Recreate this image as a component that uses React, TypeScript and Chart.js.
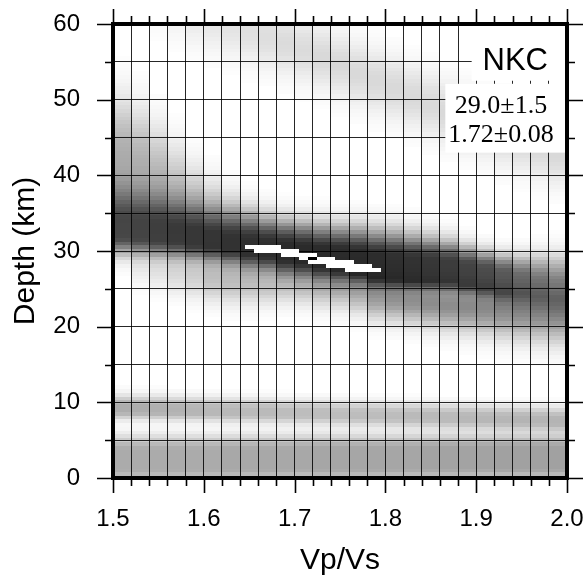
import { useEffect, useRef } from 'react';
import { Chart, registerables } from 'chart.js';

Chart.register(...registerables);

// ---------- axis data ----------
const X_MIN = 1.5;
const X_MAX = 2.0;
const Y_MIN = 0;
const Y_MAX = 60;
const X_TICKS = [1.5, 1.52, 1.54, 1.56, 1.58, 1.6, 1.62, 1.64, 1.66, 1.68, 1.7, 1.72, 1.74, 1.76, 1.78, 1.8, 1.82, 1.84, 1.86, 1.88, 1.9, 1.92, 1.94, 1.96, 1.98, 2.0];
const Y_TICKS = [0, 5, 10, 15, 20, 25, 30, 35, 40, 45, 50, 55, 60];
const X_TITLE = 'Vp/Vs';
const Y_TITLE = 'Depth (km)';

// ---------- stack amplitude (read per Vp/Vs column) ----------
const VPVS_COLUMNS = [1.51, 1.53, 1.55, 1.57, 1.59, 1.61, 1.63, 1.65, 1.67, 1.69, 1.71, 1.73, 1.75, 1.77, 1.79, 1.81, 1.83, 1.85, 1.87, 1.89, 1.91, 1.93, 1.95, 1.97, 1.99];
// main (dark) Ps band
const CORE_DEPTH = [33.0, 32.8, 32.5, 32.2, 31.8, 31.4, 31.0, 30.6, 30.3, 29.9, 29.6, 29.2, 28.9, 28.5, 28.0, 27.8, 27.6, 27.5, 27.3, 26.9, 26.5, 26.0, 25.7, 25.3, 25.0];
const CORE_PLATEAU = [1.0, 1.0, 1.0, 0.9, 0.9, 0.8, 0.8, 0.9, 0.9, 1.0, 1.0, 1.1, 1.2, 1.3, 1.5, 1.5, 1.45, 1.4, 1.3, 1.25, 1.2, 1.2, 1.0, 0.9, 0.8];
const CORE_DEEP_WIDTH = [3.7, 3.5, 3.3, 3.1, 2.9, 2.8, 2.7, 2.5, 2.3, 2.2, 2.2, 2.2, 2.2, 2.3, 2.3, 2.3, 2.2, 2.05, 1.9, 1.7, 1.6, 1.6, 1.8, 2.1, 2.4];
const CORE_SHALLOW_WIDTH = [1.7, 1.7, 1.6, 1.6, 1.5, 1.5, 1.5, 1.5, 1.5, 1.6, 1.6, 1.5, 1.4, 1.2, 1.0, 0.95, 0.9, 0.9, 0.9, 0.9, 1.0, 1.1, 1.3, 1.45, 1.6];
const CORE_PEAK = [0.72, 0.73, 0.75, 0.77, 0.78, 0.79, 0.80, 0.81, 0.82, 0.83, 0.83, 0.83, 0.83, 0.83, 0.82, 0.81, 0.80, 0.78, 0.76, 0.73, 0.69, 0.63, 0.56, 0.50, 0.45];
// broad lobe on the deep side (left)
const DEEP_LOBE_DEPTH = [43.5, 42.5, 41.0, 39.5, 38.0, 37.0, 36.0, 36.0, 36.0, 36.0, 36.0, 36.0, 36.0, 36.0, 36.0, 36.0, 36.0, 36.0, 36.0, 36.0, 36.0, 36.0, 36.0, 36.0, 36.0];
const DEEP_LOBE_WIDTH = [4.5, 4.2, 3.8, 3.4, 3.0, 2.6, 2.2, 2, 2, 2, 2, 2, 2, 2, 2, 2, 2, 2, 2, 2, 2, 2, 2, 2, 2];
const DEEP_LOBE_PEAK = [0.30, 0.28, 0.24, 0.19, 0.14, 0.09, 0.045, 0, 0, 0, 0, 0, 0, 0, 0, 0, 0, 0, 0, 0, 0, 0, 0, 0, 0];
// lobe on the shallow side (right)
const SHALLOW_LOBE_DEPTH = [27.8, 27.5, 27.2, 26.9, 26.6, 26.3, 26.0, 25.8, 25.6, 25.5, 25.3, 25.1, 24.9, 24.6, 24.0, 23.7, 23.4, 23.1, 22.8, 22.6, 22.4, 22.2, 22.0, 21.8, 21.7];
const SHALLOW_LOBE_WIDTH = [1.5, 1.5, 1.7, 1.8, 1.9, 2.0, 2.0, 1.9, 1.8, 1.7, 1.7, 1.8, 1.8, 1.9, 2.0, 2.0, 2.05, 2.1, 2.15, 2.2, 2.3, 2.4, 2.45, 2.55, 2.6];
const SHALLOW_LOBE_PEAK = [0, 0.06, 0.10, 0.14, 0.18, 0.24, 0.25, 0.25, 0.24, 0.22, 0.23, 0.26, 0.29, 0.33, 0.40, 0.43, 0.44, 0.45, 0.45, 0.46, 0.46, 0.46, 0.46, 0.45, 0.45];
// faint multiple band at the top
const FAINT_BAND_DEPTH = [66.0, 64.5, 63.3, 62.2, 61.2, 60.5, 59.8, 59.0, 58.2, 57.4, 56.5, 55.6, 54.6, 53.5, 52.5, 51.5, 50.4, 49.3, 48.3, 47.3, 46.4, 45.5, 44.6, 43.7, 42.8];
const FAINT_BAND_PEAK = [0, 0.03, 0.05, 0.07, 0.09, 0.10, 0.11, 0.12, 0.13, 0.14, 0.14, 0.15, 0.15, 0.15, 0.15, 0.15, 0.15, 0.15, 0.15, 0.15, 0.15, 0.15, 0.15, 0.15, 0.15];
// shallow band near 8-9 km
const SEDIMENT_BAND_DEPTH = [9.2, 9.15, 9.1, 9.0, 8.95, 8.9, 8.8, 8.75, 8.7, 8.6, 8.55, 8.5, 8.4, 8.35, 8.3, 8.2, 8.15, 8.1, 8.0, 7.95, 7.9, 7.8, 7.75, 7.7, 7.6];
const SEDIMENT_BAND_PEAK = [0.32, 0.32, 0.31, 0.30, 0.29, 0.28, 0.28, 0.27, 0.27, 0.26, 0.26, 0.26, 0.26, 0.26, 0.26, 0.26, 0.27, 0.27, 0.27, 0.28, 0.28, 0.28, 0.29, 0.29, 0.29];
// surface band near 2-3 km
const SURFACE_BAND_DEPTH = [2.5, 2.5, 2.5, 2.5, 2.5, 2.5, 2.55, 2.55, 2.55, 2.55, 2.6, 2.6, 2.6, 2.6, 2.6, 2.6, 2.65, 2.65, 2.65, 2.65, 2.7, 2.7, 2.7, 2.7, 2.7];
const SURFACE_BAND_PEAK = [0.33, 0.33, 0.33, 0.33, 0.33, 0.33, 0.34, 0.34, 0.34, 0.34, 0.34, 0.35, 0.35, 0.35, 0.35, 0.35, 0.35, 0.36, 0.36, 0.36, 0.36, 0.37, 0.37, 0.37, 0.37];

// >95% contour (white cells) and maximum
const BLOB_VPVS = [1.65, 1.66, 1.67, 1.68, 1.69, 1.70, 1.71, 1.72, 1.73, 1.74, 1.75, 1.76, 1.77, 1.78, 1.79];
const BLOB_SHALLOW = [30.5, 30.0, 30.0, 30.0, 29.5, 29.5, 29.0, 28.5, 28.5, 28.0, 28.0, 27.5, 27.5, 27.5, 27.5];
const BLOB_DEEP = [30.5, 30.5, 30.5, 30.5, 30.0, 30.0, 29.5, 29.5, 29.0, 29.0, 28.5, 28.5, 28.0, 28.0, 27.5];
const BEST_VPVS = 1.72;
const BEST_DEPTH = 29.0;

// annotation
const STATION = 'NKC';
const H_RESULT = '29.0\u00b11.5';
const K_RESULT = '1.72\u00b10.08';

const SANS = "'Liberation Sans', Arial, Helvetica, sans-serif";
const SERIF = "'Liberation Serif', 'Times New Roman', serif";
const COL_HALF = 0.01;
const ROW_STEP = 0.5;
const CELL_K = 0.01;

function band(d: number, c: number, h: number, sDeep: number, sShallow: number, p: number) {
  if (p <= 0) return 0;
  const dd = d - c;
  const a = Math.max(0, Math.abs(dd) - h);
  const s = dd > 0 ? sDeep : sShallow;
  return p * Math.exp(-0.5 * (a / s) * (a / s));
}

function darkness(i: number, d: number) {
  const parts = [
    band(d, CORE_DEPTH[i], CORE_PLATEAU[i], CORE_DEEP_WIDTH[i], CORE_SHALLOW_WIDTH[i], CORE_PEAK[i]),
    band(d, DEEP_LOBE_DEPTH[i], 0, DEEP_LOBE_WIDTH[i], DEEP_LOBE_WIDTH[i], DEEP_LOBE_PEAK[i]),
    band(d, SHALLOW_LOBE_DEPTH[i], 0, SHALLOW_LOBE_WIDTH[i], SHALLOW_LOBE_WIDTH[i], SHALLOW_LOBE_PEAK[i]),
    band(d, FAINT_BAND_DEPTH[i], 0, 2.8, 2.8, FAINT_BAND_PEAK[i]),
    band(d, SEDIMENT_BAND_DEPTH[i], 0.3, 1.0, 0.8, SEDIMENT_BAND_PEAK[i]),
    band(d, SURFACE_BAND_DEPTH[i], 1.2, 1.3, 1.3, SURFACE_BAND_PEAK[i]),
  ];
  let keep = 1;
  parts.forEach((v) => {
    keep *= 1 - v;
  });
  return Math.min(1 - keep, 0.9);
}

const hkPlugin = {
  id: 'hkStack',
  beforeDraw(chart: any) {
    const { ctx, width, height } = chart;
    ctx.save();
    ctx.fillStyle = '#fff';
    ctx.fillRect(0, 0, width, height);
    ctx.restore();
  },
  beforeDatasetsDraw(chart: any) {
    const { ctx, chartArea: ca, scales } = chart;
    const x = scales.x;
    const y = scales.y;
    ctx.save();
    ctx.beginPath();
    ctx.rect(ca.left, ca.top, ca.right - ca.left, ca.bottom - ca.top);
    ctx.clip();
    VPVS_COLUMNS.forEach((k, i) => {
      const x0 = Math.round(x.getPixelForValue(k - COL_HALF));
      const x1 = Math.round(x.getPixelForValue(k + COL_HALF));
      for (let d = Y_MIN; d <= Y_MAX + 1e-9; d += ROW_STEP) {
        const t = darkness(i, d);
        if (t < 0.008) continue;
        const yTop = Math.round(y.getPixelForValue(d + ROW_STEP / 2));
        const yBot = Math.round(y.getPixelForValue(d - ROW_STEP / 2));
        const g = Math.round(255 * (1 - t));
        ctx.fillStyle = `rgb(${g},${g},${g})`;
        ctx.fillRect(x0, yTop, x1 - x0, yBot - yTop);
      }
    });
    ctx.restore();
  },
  afterDraw(chart: any) {
    const { ctx, chartArea: ca, scales } = chart;
    const x = scales.x;
    const y = scales.y;
    ctx.save();
    // >95% region and maximum
    const cell = (k: number, d: number, color: string) => {
      const x0 = Math.round(x.getPixelForValue(k - CELL_K / 2));
      const x1 = Math.round(x.getPixelForValue(k + CELL_K / 2));
      const y0 = Math.round(y.getPixelForValue(d + ROW_STEP / 2));
      const y1 = Math.round(y.getPixelForValue(d - ROW_STEP / 2));
      ctx.fillStyle = color;
      ctx.fillRect(x0, y0, x1 - x0, y1 - y0);
    };
    BLOB_VPVS.forEach((k, i) => {
      for (let d = BLOB_SHALLOW[i]; d <= BLOB_DEEP[i] + 1e-9; d += ROW_STEP) cell(k, d, '#fff');
    });
    cell(BEST_VPVS, BEST_DEPTH, '#000');

    // annotation boxes
    ctx.fillStyle = '#fff';
    const bx1 = x.getPixelForValue(1.895);
    const by1 = y.getPixelForValue(52.5);
    ctx.fillRect(bx1, ca.top, ca.right - bx1, by1 - ca.top);
    const bx2 = x.getPixelForValue(1.866);
    const by2a = y.getPixelForValue(52.1);
    const by2b = y.getPixelForValue(43.0);
    ctx.fillRect(bx2, by2a, ca.right - bx2, by2b - by2a);

    ctx.fillStyle = '#000';
    ctx.textBaseline = 'alphabetic';
    ctx.font = `31px ${SANS}`;
    ctx.textAlign = 'right';
    ctx.fillText(STATION, ca.right - 19, ca.top + 46);
    ctx.font = `26px ${SERIF}`;
    ctx.textAlign = 'center';
    ctx.fillText(H_RESULT, ca.right - 66, ca.top + 89);
    ctx.fillText(K_RESULT, ca.right - 66, ca.top + 118);

    // frame
    ctx.strokeStyle = '#000';
    ctx.lineWidth = 4;
    ctx.strokeRect(ca.left, ca.top, ca.right - ca.left, ca.bottom - ca.top);

    // tick marks on four sides
    ctx.lineWidth = 1.6;
    ctx.beginPath();
    x.ticks.forEach((t: any) => {
      const px = Math.round(x.getPixelForValue(t.value)) + 0.5;
      const major = Math.round(t.value * 100) % 10 === 0;
      const len = major ? 15 : 8;
      ctx.moveTo(px, ca.bottom);
      ctx.lineTo(px, ca.bottom + len);
      ctx.moveTo(px, ca.top);
      ctx.lineTo(px, ca.top - len);
    });
    y.ticks.forEach((t: any) => {
      const py = Math.round(y.getPixelForValue(t.value)) + 0.5;
      const major = Math.round(t.value) % 10 === 0;
      const len = major ? 16 : 8;
      ctx.moveTo(ca.left, py);
      ctx.lineTo(ca.left - len, py);
      ctx.moveTo(ca.right, py);
      ctx.lineTo(ca.right + len, py);
    });
    ctx.stroke();
    ctx.restore();
  },
};

export default function App() {
  const canvasRef = useRef<HTMLCanvasElement | null>(null);

  useEffect(() => {
    const canvas = canvasRef.current;
    if (!canvas) return;
    const chart = new Chart(canvas, {
      type: 'scatter',
      data: { datasets: [] },
      plugins: [hkPlugin],
      options: {
        responsive: false,
        animation: false,
        devicePixelRatio: 1,
        layout: { autoPadding: false, padding: { top: 24, right: 21, left: 0, bottom: 0 } },
        plugins: {
          legend: { display: false },
          tooltip: { enabled: false },
          title: { display: false },
        },
        scales: {
          x: {
            type: 'linear',
            position: 'bottom',
            min: X_MIN,
            max: X_MAX,
            afterBuildTicks: (s: any) => {
              s.ticks = X_TICKS.map((v) => ({ value: v }));
            },
            afterFit: (s: any) => {
              s.height = 108;
            },
            ticks: {
              autoSkip: false,
              maxRotation: 0,
              padding: 0,
              color: '#000',
              font: { family: SANS, size: 24 },
              callback: (v: any) => {
                const m = Math.round(Number(v) * 100);
                return m % 10 === 0 ? (m / 100).toFixed(1) : '';
              },
            },
            grid: {
              color: 'rgba(0,0,0,0.85)',
              lineWidth: 1,
              drawTicks: true,
              tickLength: 27,
              tickColor: 'rgba(0,0,0,0)',
              z: 1,
            },
            border: { display: false },
            title: {
              display: true,
              text: X_TITLE,
              color: '#000',
              font: { family: SANS, size: 30 },
              padding: { top: 0, bottom: 7 },
            },
          },
          y: {
            type: 'linear',
            position: 'left',
            min: Y_MIN,
            max: Y_MAX,
            afterBuildTicks: (s: any) => {
              s.ticks = Y_TICKS.map((v) => ({ value: v }));
            },
            afterFit: (s: any) => {
              s.width = 113;
            },
            ticks: {
              autoSkip: false,
              padding: 0,
              color: '#000',
              font: { family: SANS, size: 24 },
              callback: (v: any) => (Math.round(Number(v)) % 10 === 0 ? String(v) : ''),
            },
            grid: {
              color: 'rgba(0,0,0,0.85)',
              lineWidth: 1,
              drawTicks: true,
              tickLength: 33,
              tickColor: 'rgba(0,0,0,0)',
              z: 1,
            },
            border: { display: false },
            title: {
              display: true,
              text: Y_TITLE,
              color: '#000',
              font: { family: SANS, size: 30 },
              padding: { top: 8, bottom: 0 },
            },
          },
        },
      } as any,
    });
    return () => chart.destroy();
  }, []);

  return (
    <div style={{ position: 'fixed', left: 0, top: 0, width: 588, height: 586, background: '#fff' }}>
      <canvas ref={canvasRef} width={588} height={586} style={{ display: 'block', width: 588, height: 586 }} />
    </div>
  );
}
